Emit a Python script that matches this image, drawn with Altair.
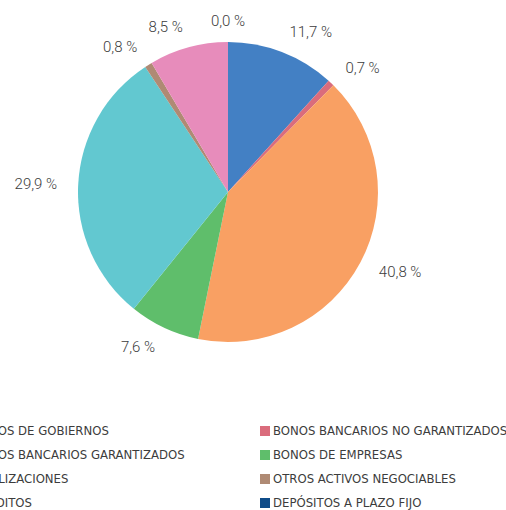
import altair as alt
import pandas as pd

categories = [
    "BONOS DE GOBIERNOS",
    "BONOS BANCARIOS NO GARANTIZADOS",
    "BONOS BANCARIOS GARANTIZADOS",
    "BONOS DE EMPRESAS",
    "TITULIZACIONES",
    "OTROS ACTIVOS NEGOCIABLES",
    "CRÉDITOS",
    "DEPÓSITOS A PLAZO FIJO",
]
values = [11.7, 0.7, 40.8, 7.6, 29.9, 0.8, 8.5, 0.0]
labels = ["11,7 %", "0,7 %", "40,8 %", "7,6 %", "29,9 %", "0,8 %", "8,5 %", "0,0 %"]
colors = ["#4380C4", "#DA6C7C", "#F9A063", "#5FBE6B", "#62C8D0", "#AF8A74", "#E78CBB", "#0F4C89"]
legend_col = [0, 1, 0, 1, 0, 1, 0, 1]
legend_row = [0, 0, 1, 1, 2, 2, 3, 3]

df = pd.DataFrame({
    "cat": categories,
    "value": values,
    "label": labels,
    "idx": list(range(len(categories))),
    "col": legend_col,
    "row": legend_row,
})

color = alt.Color("cat:N", scale=alt.Scale(domain=categories, range=colors), legend=None)

base = alt.Chart(df)

pie = base.mark_arc(radius=150).encode(
    theta=alt.Theta("value:Q", stack=True),
    color=color,
    order=alt.Order("idx:Q"),
    x=alt.value(228),
    y=alt.value(192),
)

lab_base = base.transform_joinaggregate(
    total="sum(value)"
).transform_window(
    cum="sum(value)", sort=[alt.SortField("idx")], frame=[None, 0]
).transform_calculate(
    mid="(datum.cum - datum.value/2) / datum.total * 2 * PI",
    s="sin(datum.mid)",
)

def label_layer(filt, align):
    return lab_base.transform_filter(filt).mark_text(
        font="Roboto", fontSize=15, fontWeight=300, color="#3c3c3c",
        align=align, baseline="middle"
    ).encode(
        theta=alt.Theta("mid:Q", scale=None, stack=False),
        radius=alt.value(171),
        text="label:N",
        x=alt.value(228),
        y=alt.value(192),
    )

t_right = label_layer("datum.s > 0.05", "left")
t_left = label_layer("datum.s < -0.05", "right")
t_mid = label_layer("abs(datum.s) <= 0.05", "center")

xs = alt.X("col:Q", scale=alt.Scale(domain=[0, 1], range=[-36, 265]), axis=None)
ys = alt.Y("row:Q", scale=alt.Scale(domain=[0, 3], range=[431, 503]), axis=None)

leg_sq = base.mark_square(size=100, opacity=1).encode(x=xs, y=ys, color=color)
leg_tx = base.mark_text(
    align="left", baseline="middle", dx=8, fontSize=13,
    font="Liberation Sans Narrow, DejaVu Sans Condensed, sans-serif", color="#3c3c3c"
).encode(x=xs, y=ys, text="cat:N")

chart = alt.layer(pie, t_right, t_left, t_mid, leg_sq, leg_tx).properties(
    width=506, height=510, autosize="none", padding=0
).configure_view(stroke=None)

chart.save("out.html", embed_options={"renderer": "svg", "actions": False})
